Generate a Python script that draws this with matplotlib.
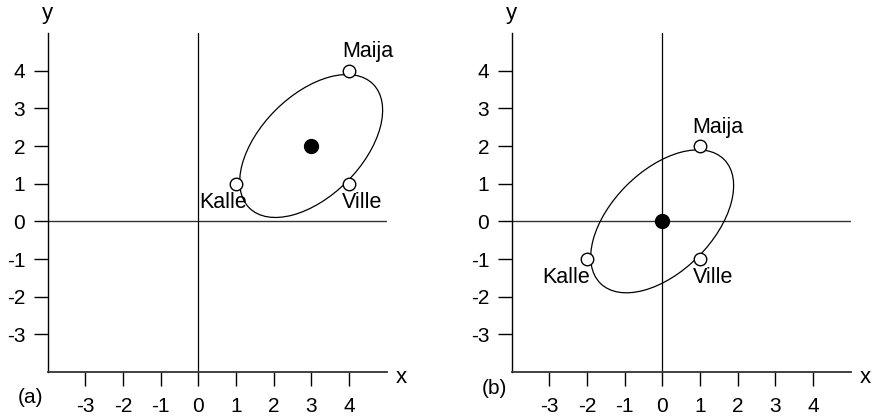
import matplotlib.pyplot as plt
from matplotlib.patches import Ellipse
import numpy as np

plt.rcParams['font.family'] = ['Liberation Sans', 'DejaVu Sans']
plt.rcParams['axes.unicode_minus'] = False

# havainnot: nimi, x, y
nimet = ['Kalle', 'Maija', 'Ville']
x_arvot = np.array([1, 4, 4])
y_arvot = np.array([1, 4, 1])

tikit = [-3, -2, -1, 0, 1, 2, 3, 4]
paneelit = ['(a)', '(b)']

# nimien paikat pisteeseen nähden (keskikohta)
nimi_dx = {'(a)': [-0.35, 0.5, 0.36], '(b)': [-0.56, 0.47, 0.35]}
nimi_dy = [-0.5, 0.5, -0.5]
paneeli_y = {'(a)': -4.67, '(b)': -4.45}

taso = 1.8  # ellipsin Mahalanobis-taso


def piirra_ellipsi(ax, x, y):
    kx, ky = x.mean(), y.mean()
    kov = np.cov(x, y, bias=True)
    arvot, vektorit = np.linalg.eigh(kov)
    kulma = np.degrees(np.arctan2(vektorit[1, 1], vektorit[0, 1]))
    e = Ellipse((kx, ky), 2 * np.sqrt(taso * arvot[1]), 2 * np.sqrt(taso * arvot[0]),
                angle=kulma, facecolor='none', edgecolor='black', linewidth=0.9, zorder=2)
    ax.add_patch(e)


def piirra(ax, x, y, tunnus):
    ax.set_xlim(-4, 5)
    ax.set_ylim(-4, 5)
    ax.set_aspect('equal')
    for s in ['top', 'right']:
        ax.spines[s].set_visible(False)
    ax.spines['left'].set_color('black')
    ax.spines['left'].set_linewidth(1.0)
    ax.spines['bottom'].set_color('#333333')
    ax.spines['bottom'].set_linewidth(1.3)

    ax.axhline(0, color='#333333', linewidth=1.0, zorder=1)
    ax.axvline(0, color='black', linewidth=0.9, zorder=1)

    ax.set_xticks(tikit)
    ax.set_yticks(tikit)
    ax.tick_params(direction='out', length=10, width=1.0, labelsize=15, color='black')
    ax.tick_params(axis='y', pad=6)
    ax.tick_params(axis='x', pad=8)

    piirra_ellipsi(ax, x, y)

    ax.plot(x, y, 'o', markersize=9, markerfacecolor='white',
            markeredgecolor='black', markeredgewidth=1.0, zorder=3)
    ax.plot(x.mean(), y.mean(), 'o', markersize=10, color='black', zorder=3)

    for i, n in enumerate(nimet):
        ax.text(x[i] + nimi_dx[tunnus][i], y[i] + nimi_dy[i], n, fontsize=15.5,
                ha='center', va='center', zorder=4)

    ax.text(5.4, -4.14, 'x', fontsize=16, ha='center', va='center', clip_on=False)
    ax.text(-4.0, 5.52, 'y', fontsize=16, ha='center', va='center', clip_on=False)
    ax.text(-4.45, paneeli_y[tunnus], tunnus, fontsize=15, ha='center', va='center',
            clip_on=False)


fig = plt.figure(figsize=(8.72, 4.19), dpi=100)
ax1 = fig.add_axes([47 / 872, 47 / 419, 340 / 872, 339 / 419])
ax2 = fig.add_axes([511 / 872, 47 / 419, 340 / 872, 339 / 419])

piirra(ax1, x_arvot, y_arvot, '(a)')
# keskistetyt havainnot
piirra(ax2, x_arvot - x_arvot.mean(), y_arvot - y_arvot.mean(), '(b)')

fig.savefig('out.png', dpi=100)
